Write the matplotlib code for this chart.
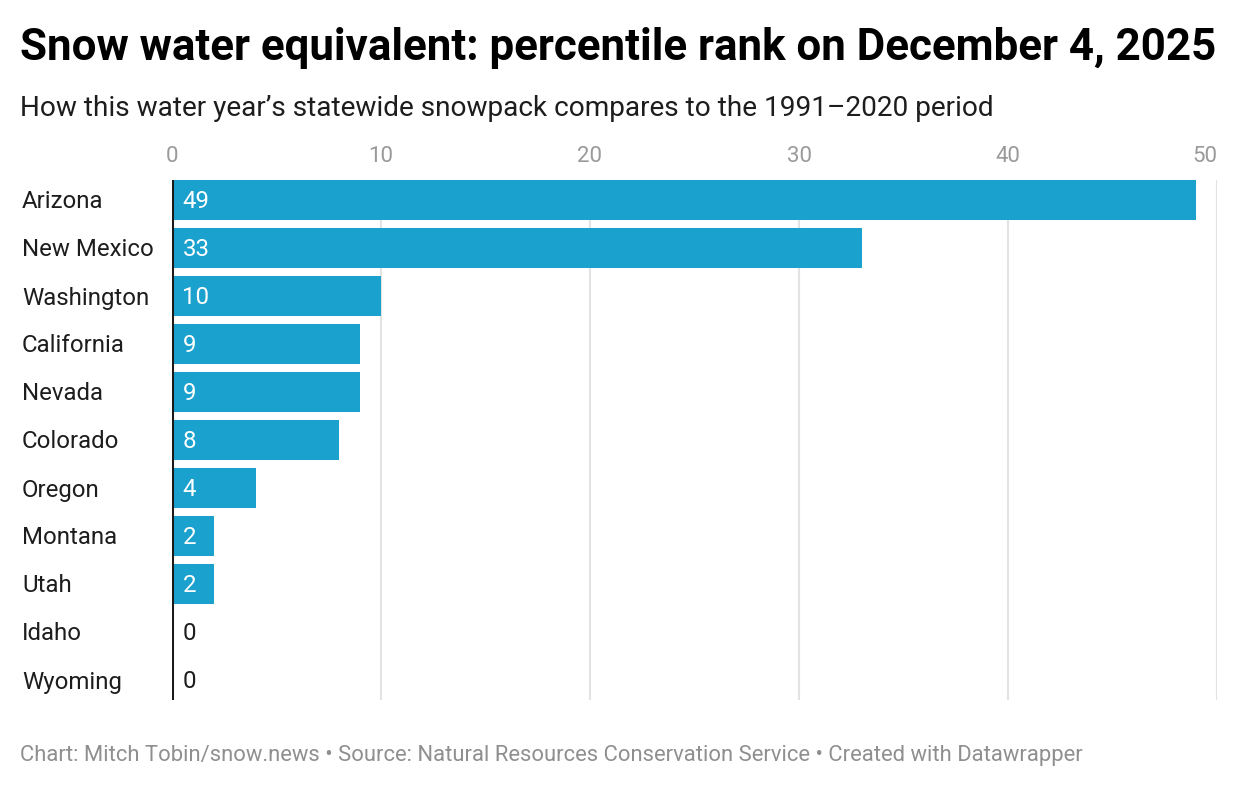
import matplotlib
matplotlib.use("Agg")
import matplotlib.pyplot as plt

states = ["Arizona", "New Mexico", "Washington", "California", "Nevada",
          "Colorado", "Oregon", "Montana", "Utah", "Idaho", "Wyoming"]
values = [49, 33, 10, 9, 9, 8, 4, 2, 2, 0, 0]
xticks = [0, 10, 20, 30, 40, 50]

plt.rcParams['font.family'] = ['Roboto', 'DejaVu Sans']

W, H = 1240, 786
fig = plt.figure(figsize=(W / 100, H / 100), dpi=100)
fig.patch.set_facecolor("white")

left, right, top, bottom = 172, 1217, 180, 700
ax = fig.add_axes([left / W, 1 - bottom / H, (right - left) / W, (bottom - top) / H])

pos = list(range(len(states)))
bar_h = 40 / 48
ax.barh(pos, values, height=bar_h, color="#1aa1cd", zorder=2)
ax.set_xlim(0, 50)
ax.set_ylim(len(states) - 1 + bar_h / 2, -bar_h / 2)

for x in xticks[1:]:
    ax.axvline(x, color="#e3e3e3", lw=1.5, zorder=1)
ax.axvline(0, color="#1a1a1a", lw=2.2, zorder=3)

for s in ax.spines.values():
    s.set_visible(False)
ax.set_xticks(xticks)
ax.xaxis.tick_top()
ax.tick_params(axis="x", length=0, pad=9, labelsize=16, labelcolor="#9a9a9a")
ax.set_yticks([])
ax.get_xticklabels()[-1].set_horizontalalignment("right")

dy = 2 / 48
for p, (name, v) in enumerate(zip(states, values)):
    ax.text(-150 / ((right - left) / 50), p + dy, name, ha="left", va="center",
            fontsize=17.3, color="#1d1d1d")
    col = "white" if v > 1 else "#1d1d1d"
    ax.text(0.5, p + dy, str(v), ha="left", va="center", fontsize=17.3, color=col, zorder=4)

fig.text(20 / W, 1 - 48 / H, "Snow water equivalent: percentile rank on December 4, 2025",
         fontsize=31.6, fontweight="bold", color="#000000", ha="left", va="center")
fig.text(20 / W, 1 - 108 / H, "How this water year\u2019s statewide snowpack compares to the 1991\u20132020 period",
         fontsize=20.2, color="#1d1d1d", ha="left", va="center")
fig.text(20 / W, 1 - 755 / H,
         "Chart: Mitch Tobin/snow.news \u2022 Source: Natural Resources Conservation Service \u2022 Created with Datawrapper",
         fontsize=15.8, color="#8f8f8f", ha="left", va="center")

fig.savefig("out.png", dpi=100)
